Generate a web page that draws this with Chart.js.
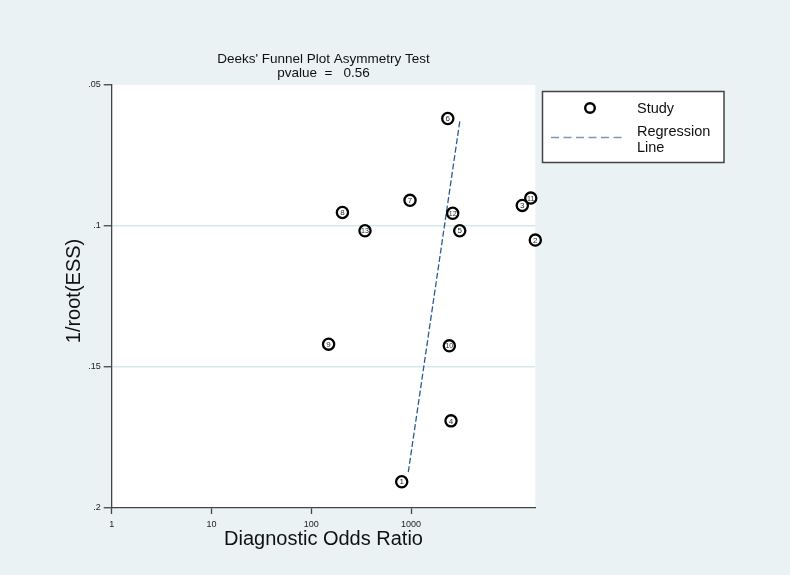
<!DOCTYPE html>
<html>
<head>
<meta charset="utf-8">
<script src="https://cdn.jsdelivr.net/npm/chart.js@4/dist/chart.umd.min.js"></script>
<style>
  html, body { margin: 0; padding: 0; background: #eaf2f4; }
  #wrap { width: 790px; height: 575px; }
</style>
</head>
<body>
<div id="wrap"><canvas id="chartCanvas" width="790" height="575"></canvas></div>
<script>
// study ids, diagnostic odds ratio (x) and 1/root(ESS) (y)
const studyIds = ['1', '2', '3', '4', '5', '6', '7', '8', '9', '10', '11', '12', '13'];
const dorValues = [805, 17550, 13000, 2510, 3070, 2330, 975, 205, 149, 2415, 15800, 2610, 345];
const essValues = [0.1907, 0.1050, 0.0927, 0.1691, 0.1017, 0.0619, 0.0909, 0.0952, 0.1419, 0.1425, 0.0901, 0.0955, 0.1017];

// regression line end points
const regDor = [937, 3090];
const regEss = [0.1873, 0.0623];

const xTicks = [1, 10, 100, 1000];
const yTicks = [0.05, 0.1, 0.15, 0.2];
const yTickLabels = ['.05', '.1', '.15', '.2'];

const FONT = "Arial, 'Liberation Sans', sans-serif";

const studyData = dorValues.map((v, i) => ({ x: v, y: essValues[i] }));
const regData = regDor.map((v, i) => ({ x: v, y: regEss[i] }));

// titles, legend box and study numbers
const extras = {
  id: 'extras',
  beforeDraw(chart) {
    const c = chart.ctx;
    const a = chart.chartArea;
    c.save();
    c.fillStyle = '#eaf2f4';
    c.fillRect(0, 0, chart.width, chart.height);
    c.fillStyle = '#ffffff';
    c.fillRect(a.left, a.top, a.right - a.left, a.bottom - a.top);
    c.restore();
  },
  afterDatasetsDraw(chart) {
    const c = chart.ctx;
    const meta = chart.getDatasetMeta(0);
    c.save();
    c.fillStyle = '#2a2a2a';
    c.textAlign = 'center';
    c.textBaseline = 'middle';
    meta.data.forEach((pt, i) => {
      const id = studyIds[i];
      c.font = (id.length > 1 ? '7px ' : '8px ') + FONT;
      c.fillText(id, pt.x, pt.y + 0.5);
    });
    c.restore();
  },
  afterDraw(chart) {
    const c = chart.ctx;
    const a = chart.chartArea;
    const cx = (a.left + a.right) / 2;
    c.save();
    c.fillStyle = '#111';
    c.textAlign = 'center';
    c.textBaseline = 'alphabetic';
    c.font = '13.5px ' + FONT;
    c.fillText("Deeks' Funnel Plot Asymmetry Test", cx, 63);
    c.fillText('pvalue  =   0.56', cx, 76.5);

    c.font = '20px ' + FONT;
    c.fillText('Diagnostic Odds Ratio', cx, 545);

    c.save();
    c.translate(80, 291);
    c.rotate(-Math.PI / 2);
    c.font = '20px ' + FONT;
    c.fillText('1/root(ESS)', 0, 0);
    c.restore();

    // legend
    c.fillStyle = '#ffffff';
    c.fillRect(542.5, 91.5, 181.5, 71);
    c.strokeStyle = '#444';
    c.lineWidth = 1.5;
    c.strokeRect(542.5, 91.5, 181.5, 71);

    c.beginPath();
    c.arc(590, 108, 4.8, 0, Math.PI * 2);
    c.lineWidth = 2.4;
    c.strokeStyle = '#000';
    c.stroke();

    c.beginPath();
    c.setLineDash([8, 4.5]);
    c.lineWidth = 1.3;
    c.strokeStyle = '#7d98b6';
    c.moveTo(551, 137.5);
    c.lineTo(625, 137.5);
    c.stroke();
    c.setLineDash([]);

    c.fillStyle = '#111';
    c.textAlign = 'left';
    c.font = '14.5px ' + FONT;
    c.fillText('Study', 637, 113);
    c.fillText('Regression', 637, 135.5);
    c.fillText('Line', 637, 151.5);
    c.restore();
  }
};

const ctx = document.getElementById('chartCanvas').getContext('2d');
const chart = new Chart(ctx, {
  type: 'scatter',
  data: {
    datasets: [
      {
        label: 'Study',
        data: studyData,
        clip: false,
        pointStyle: 'circle',
        pointRadius: 5.6,
        pointHoverRadius: 5.6,
        pointBorderWidth: 2.3,
        pointBorderColor: '#000',
        pointBackgroundColor: '#fff',
        order: 1
      },
      {
        label: 'Regression Line',
        type: 'line',
        data: regData,
        borderColor: '#2a5b90',
        borderWidth: 1.3,
        borderDash: [6, 2.5],
        pointRadius: 0,
        fill: false,
        order: 2
      }
    ]
  },
  options: {
    responsive: false,
    animation: false,
    events: [],
    layout: { padding: { top: 85, right: 254.7, bottom: 0, left: 0 } },
    plugins: {
      legend: { display: false },
      title: { display: false },
      tooltip: { enabled: false }
    },
    scales: {
      x: {
        type: 'logarithmic',
        min: 1,
        max: 17550,
        afterBuildTicks: s => { s.ticks = xTicks.map(v => ({ value: v })); },
        afterFit: s => { s.height = 67; },
        ticks: {
          font: { family: FONT, size: 9 },
          color: '#222',
          padding: 5,
          maxRotation: 0,
          callback: v => String(v)
        },
        grid: { drawOnChartArea: false, tickLength: 6, tickColor: '#444', tickWidth: 1.3 },
        border: { color: '#444', width: 1.3 }
      },
      y: {
        type: 'linear',
        reverse: true,
        min: 0.05,
        max: 0.2,
        afterBuildTicks: s => { s.ticks = yTicks.map(v => ({ value: v })); },
        afterFit: s => { s.width = 111.7; },
        ticks: {
          font: { family: FONT, size: 9 },
          color: '#222',
          padding: 3,
          callback: v => {
            const i = yTicks.findIndex(t => Math.abs(t - v) < 1e-9);
            return i >= 0 ? yTickLabels[i] : '';
          }
        },
        grid: {
          color: c => (c.tick && (Math.abs(c.tick.value - 0.1) < 1e-9 || Math.abs(c.tick.value - 0.15) < 1e-9)) ? '#d6e7ec' : 'rgba(0,0,0,0)',
          lineWidth: 1.5,
          tickLength: 8,
          tickColor: '#444',
          tickWidth: 1.3
        },
        border: { color: '#444', width: 1.3 }
      }
    }
  },
  plugins: [extras]
});
</script>
</body>
</html>
